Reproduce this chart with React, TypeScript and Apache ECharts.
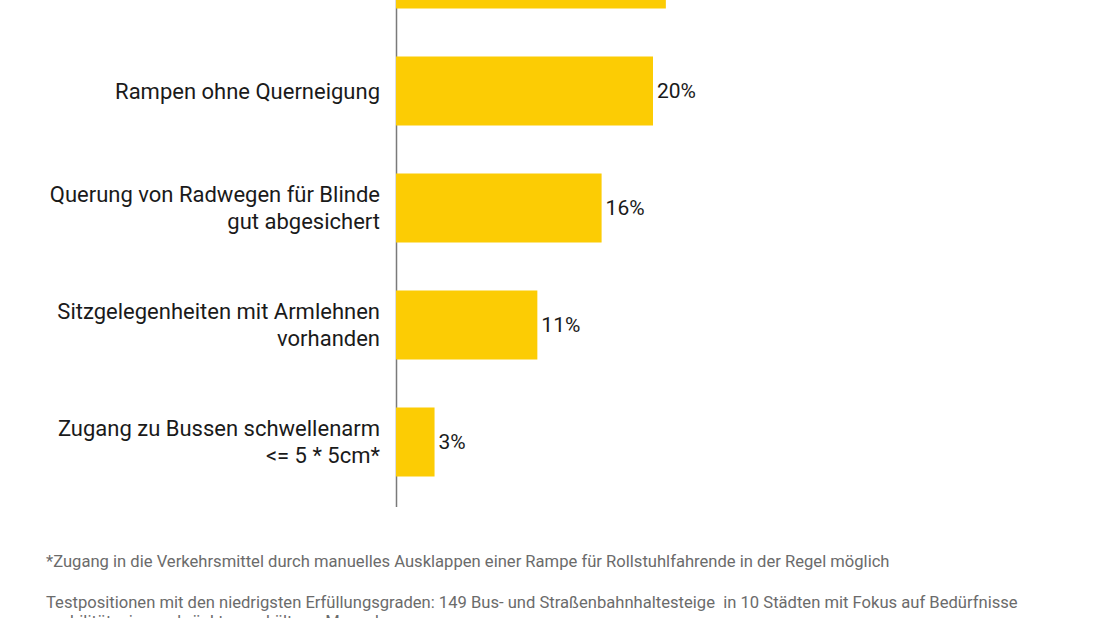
import React, { useEffect, useRef } from "react";
import * as echarts from "echarts";

const categories = [
  "Zugang zu Bussen schwellenarm\n<= 5 * 5cm*",
  "Sitzgelegenheiten mit Armlehnen\nvorhanden",
  "Querung von Radwegen für Blinde\ngut abgesichert",
  "Rampen ohne Querneigung",
  "",
];
const values = [3, 11, 16, 20, 21];
const footnotes = [
  "*Zugang in die Verkehrsmittel durch manuelles Ausklappen einer Rampe für Rollstuhlfahrende in der Regel möglich",
  "Testpositionen mit den niedrigsten Erfüllungsgraden: 149 Bus- und Straßenbahnhaltesteige  in 10 Städten mit Fokus auf Bedürfnisse",
  "mobilitätseingeschränkter und älterer Menschen",
];

const FONT = "'Roboto', sans-serif";
const OFFSET = 100;

export default function App() {
  const ref = useRef<HTMLDivElement>(null);
  useEffect(() => {
    if (!ref.current) return;
    const chart = echarts.init(ref.current, undefined, { renderer: "svg" });
    const lastIdx = values.length - 1;
    chart.setOption({
      animation: false,
      backgroundColor: "#ffffff",
      grid: { left: 396, top: 15.5, height: 585, width: 385.5 },
      xAxis: {
        type: "value",
        min: 0,
        max: 30,
        show: false,
      },
      yAxis: {
        type: "category",
        data: categories,
        axisLine: { show: false },
        axisTick: { show: false },
        axisLabel: {
          margin: 16,
          fontSize: 22,
          lineHeight: 27,
          color: "#1a1a1a",
          fontFamily: FONT,
          align: "right",
        },
      },
      series: [
        {
          type: "bar",
          data: values,
          barCategoryGap: "41%",
          itemStyle: { color: "#fccc04" },
          label: {
            show: true,
            position: "right",
            distance: 4,
            formatter: (p: any) => (p.dataIndex === lastIdx ? "" : p.value + "%"),
            fontSize: 21,
            color: "#1a1a1a",
            fontFamily: FONT,
          },
        },
      ],
      graphic: [
        {
          type: "line",
          shape: { x1: 396.5, y1: 0, x2: 396.5, y2: 507 + OFFSET },
          style: { stroke: "#7a7a7a", lineWidth: 1.5 },
        },
        ...footnotes.map((t, i) => ({
          type: "text",
          left: 46,
          top: [562, 603, 622][i] + OFFSET - 9,
          style: {
            text: t,
            fontSize: 16.6,
            fill: "#6b6b6b",
            fontFamily: FONT,
          },
        })),
      ],
    });
    return () => chart.dispose();
  }, []);
  return (
    <div
      ref={ref}
      style={{ position: "absolute", left: 0, top: -OFFSET, width: 1100, height: 618 + OFFSET }}
    />
  );
}
